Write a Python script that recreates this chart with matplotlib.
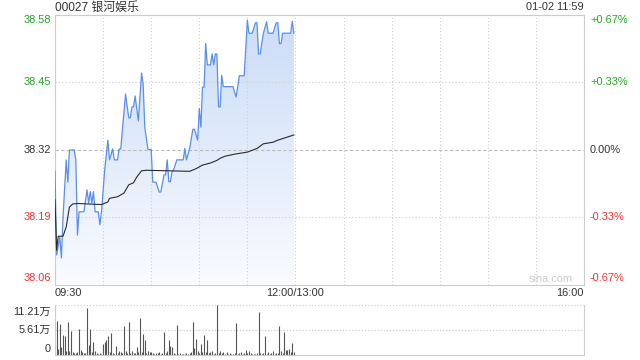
import matplotlib
matplotlib.use('Agg')
import matplotlib.pyplot as plt
import numpy as np
from matplotlib.transforms import offset_copy, blended_transform_factory
from matplotlib.patches import Polygon
from matplotlib.colors import LinearSegmentedColormap

plt.rcParams['font.family'] = ['Liberation Sans', 'Noto Sans CJK SC', 'DejaVu Sans']

# ---------------- data ----------------
title = "00027 银河娱乐"
stamp = "01-02 11:59"
prev_close = 38.32

# minutes after 09:30 (trading minutes, 0..330)
times = [0, 1, 3, 4, 5, 7, 8, 9, 12, 13, 14, 15, 18, 20, 21, 22, 23, 24, 25, 27,
         28, 29, 31, 33, 34, 36, 37, 39, 40, 41, 44, 46, 47, 48, 49, 50, 52, 54, 55, 56,
         58, 60, 61, 63, 65, 66, 68, 69, 70, 71, 72, 73, 74, 76, 80, 81, 82, 84, 86, 87,
         89, 90, 91, 92, 93, 94, 95, 97, 98, 99, 100, 101, 102, 103, 104, 105, 111, 113, 115, 118,
         120, 121, 123, 125, 126, 127, 128, 129, 130, 132, 133, 136, 138, 139, 140, 141, 142, 147, 148, 149]
prices = [38.278, 38.117, 38.151, 38.111, 38.190, 38.300, 38.257, 38.319, 38.319, 38.300,
          38.155, 38.200, 38.200, 38.242, 38.217, 38.239, 38.217, 38.239, 38.200, 38.200,
          38.175, 38.200, 38.281, 38.338, 38.300, 38.321, 38.300, 38.300, 38.321, 38.321,
          38.427, 38.381, 38.381, 38.402, 38.402, 38.423, 38.375, 38.467, 38.446, 38.363,
          38.320, 38.320, 38.257, 38.257, 38.238, 38.238, 38.271, 38.271, 38.300, 38.258,
          38.258, 38.277, 38.281, 38.300, 38.300, 38.322, 38.300, 38.322, 38.359, 38.359,
          38.338, 38.399, 38.363, 38.440, 38.440, 38.524, 38.483, 38.483, 38.504, 38.483,
          38.504, 38.504, 38.402, 38.402, 38.463, 38.441, 38.441, 38.421, 38.462, 38.462,
          38.569, 38.544, 38.544, 38.564, 38.564, 38.504, 38.504, 38.525, 38.544, 38.566,
          38.544, 38.544, 38.564, 38.564, 38.524, 38.524, 38.544, 38.544, 38.567, 38.544]

avg_times = [0, 1, 2, 5, 7, 8, 9, 11, 14, 29, 33, 34, 39, 43, 46, 49, 51, 54, 57, 84,
             88, 92, 97, 101, 103, 106, 112, 120, 126, 130, 136, 139, 143, 147, 149]
avg_prices = [38.223, 38.126, 38.153, 38.153, 38.171, 38.190, 38.209, 38.215, 38.216, 38.214,
              38.219, 38.226, 38.229, 38.236, 38.252, 38.256, 38.267, 38.279, 38.280, 38.278,
              38.283, 38.290, 38.294, 38.299, 38.303, 38.307, 38.311, 38.315, 38.322, 38.331,
              38.334, 38.338, 38.342, 38.346, 38.348]

# volume per minute, in 万
volumes = [1.0, 7.55, 1.2, 6.86, 1.68, 4.35, 4.12, 0.9, 7.32, 0.7,
           5.26, 0.5, 0.4, 0.3, 0.6, 5.87, 1.07, 0.5, 0.3, 0.4,
           10.52, 2.06, 5.87, 0.5, 2.82, 0.7, 0.4, 0.2, 0.3, 0.2,
           2.44, 2.82, 3.2, 4.12, 0.5, 4.88, 0.4, 0.2, 1.9, 0.3,
           0.7, 0.6, 0.3, 6.4, 0.7, 0.4, 7.32, 0.3, 0.8, 0.4,
           0.3, 1.68, 0.5, 8.24, 0.6, 4.73, 3.36, 0.4, 0.7, 0.6,
           0.5, 0.3, 0.2, 0.4, 0.3, 0.6, 0.2, 0.3, 5.03, 0.4,
           0.7, 3.2, 1.83, 1.68, 0.3, 0.2, 6.63, 0.2, 0.3, 0.1,
           0.1, 0.2, 0.3, 0.1, 0.3, 0.5, 7.4, 1.5, 3.58, 0.7,
           0.4, 2.44, 0.5, 4.5, 0.6, 3.2, 0.4, 0.5, 0.7, 0.2,
           0.3, 11.21, 0.4, 0.7, 0.3, 0.6, 0.2, 0.5, 0.2, 0.3,
           0.1, 0.2, 0.4, 7.17, 0.2, 0.3, 0.5, 0.2, 0.3, 1.07,
           0.4, 0.7, 0.3, 0.2, 0.1, 0.2, 0.3, 9.68, 0.4, 0.2,
           0.3, 4.19, 0.2, 0.6, 0.2, 0.3, 0.7, 0.2, 0.3, 0.4,
           6.4, 0.9, 0.3, 5.11, 1.07, 1.07, 1.3, 0.5, 2.59, 0.6]

price_ticks = [38.58, 38.45, 38.32, 38.19, 38.06]
pct_labels = ['+0.67%', '+0.33%', '0.00%', '-0.33%', '-0.67%']
x_tick_pos = [0, 150, 330]
x_tick_labels = ['09:30', '12:00/13:00', '16:00']
vol_ticks = [11.21, 5.61, 0]
vol_labels = ['11.21万', '5.61万', '0']

# ---------------- style ----------------
GREEN = '#22a822'
RED = '#f03333'
DARK = '#333333'
GRID = '#cfcfcf'
BORDER = '#cccccc'
LINE = '#5b8fe8'
FS = 7.9

W, H = 640, 360
fig = plt.figure(figsize=(6.4, 3.6), dpi=100)
L, R = 55, 584
ax = fig.add_axes([L / W, 1 - 284.5 / H, (R - L) / W, (284.5 - 14.5) / H])

ymin, ymax = price_ticks[-1], price_ticks[0]

# gradient fill under price line
cmap = LinearSegmentedColormap.from_list('g', ['#f9fbff', '#cadcf7'])
grad = np.linspace(0, 1, 256).reshape(-1, 1)
im = ax.imshow(grad, extent=[times[0], times[-1], ymin, ymax], origin='lower',
               aspect='auto', cmap=cmap, zorder=1, interpolation='bilinear')
verts = list(zip(times, prices)) + [(times[-1], ymin), (times[0], ymin)]
poly = Polygon(verts, closed=True, facecolor='none', edgecolor='none')
ax.add_patch(poly)
im.set_clip_path(poly)

ax.plot(times, prices, color=LINE, lw=0.9, zorder=3)
ax.plot(avg_times, avg_prices, color='#2a2a2a', lw=0.8, zorder=4)

ax.set_xlim(0, 330)
ax.set_ylim(ymin, ymax)

for x in range(30, 330, 30):
    ax.axvline(x, color=GRID, lw=0.8, ls=(0, (1, 2)), zorder=2)
for v in price_ticks[1:-1]:
    if abs(v - prev_close) < 1e-6:
        ax.axhline(v, color='#bbbbbb', lw=0.8, ls=(0, (3, 2)), zorder=2)
    else:
        ax.axhline(v, color=GRID, lw=0.8, ls=(0, (1, 2)), zorder=2)

ax.set_xticks([])
ax.set_yticks([])
for s in ax.spines.values():
    s.set_color(BORDER)
    s.set_linewidth(0.8)

trans = blended_transform_factory(ax.transAxes, ax.transData)
n = len(price_ticks)
for i, (v, pl) in enumerate(zip(price_ticks, pct_labels)):
    if v > prev_close + 1e-6:
        col = GREEN
    elif v < prev_close - 1e-6:
        col = RED
    else:
        col = DARK
    dy = -5.5 if i == 0 else (6.5 if i == n - 1 else 0)
    tl = offset_copy(trans, fig=fig, x=-4, y=dy, units='dots')
    ax.text(0, v, f'{v:.2f}', transform=tl, ha='right', va='center', color=col, fontsize=FS)
    tr = offset_copy(trans, fig=fig, x=6, y=dy, units='dots')
    ax.text(1, v, pl, transform=tr, ha='left', va='center', color=col, fontsize=FS)

tb = blended_transform_factory(ax.transData, ax.transAxes)
for xp, lab in zip(x_tick_pos, x_tick_labels):
    ha = 'left' if xp == 0 else ('right' if xp == 330 else 'center')
    t = offset_copy(tb, fig=fig, x=0, y=-9, units='dots')
    ax.text(xp, 0, lab, transform=t, ha=ha, va='center', color=DARK, fontsize=FS)

# header
fig.text(L / W, 1 - 7.5 / H, title, ha='left', va='center', color=DARK, fontsize=8.6)
fig.text(R / W, 1 - 7.5 / H, stamp, ha='right', va='center', color=DARK, fontsize=FS)
fig.text(573 / W, 1 - 278.5 / H, 'sina.com', ha='right', va='center', color='#cccccc', fontsize=FS)

# volume panel
vax = fig.add_axes([L / W, 1 - 354.5 / H, (R - L) / W, (354.5 - 305) / H])
vax.set_xlim(0, 330)
vax.set_ylim(0, vol_ticks[0])
vax.vlines(np.arange(len(volumes)), 0, volumes, color='#555555', lw=0.8)
for v in vol_ticks[:2]:
    vax.axhline(v, color=GRID, lw=0.9, ls=(0, (1, 1.5)), zorder=0.5)
vax.set_xticks([])
vax.set_yticks([])
vax.spines['top'].set_visible(False)
for k in ['left', 'right', 'bottom']:
    vax.spines[k].set_color(BORDER)
    vax.spines[k].set_linewidth(0.8)
vtrans = blended_transform_factory(vax.transAxes, vax.transData)
for i, (v, lab) in enumerate(zip(vol_ticks, vol_labels)):
    dy = -6.5 if i == 0 else (6 if i == len(vol_ticks) - 1 else 0)
    t = offset_copy(vtrans, fig=fig, x=-4, y=dy, units='dots')
    vax.text(0, v, lab, transform=t, ha='right', va='center', color=DARK, fontsize=FS)

fig.savefig('out.png', dpi=100)
